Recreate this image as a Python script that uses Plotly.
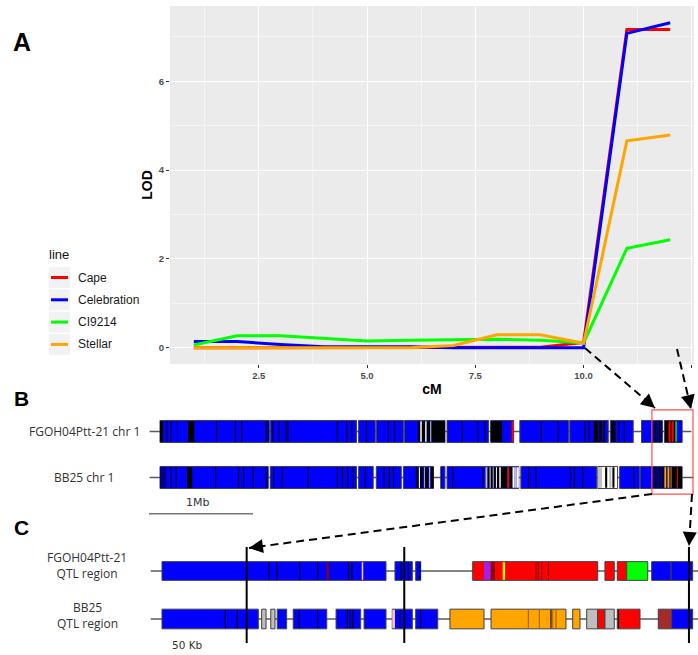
import plotly.graph_objects as go

W, H = 698, 655

# ---------------- Panel A data (LOD profile along chromosome, cM) ----------------
CM = [1, 2, 3, 4, 5, 6, 7, 8, 9, 10, 11, 12]
LOD_CAPE = [0.0, 0.0, 0.0, 0.0, 0.0, 0.0, 0.0, 0.0, 0.01, 0.12, 7.17, 7.17]
LOD_CELEBRATION = [0.14, 0.14, 0.07, 0.02, 0.02, 0.02, 0.0, 0.0, 0.0, 0.0, 7.08, 7.32]
LOD_CI9214 = [0.06, 0.27, 0.27, 0.21, 0.15, 0.17, 0.18, 0.19, 0.17, 0.11, 2.24, 2.43]
LOD_STELLAR = [0.0, 0.0, 0.0, 0.0, 0.0, 0.0, 0.05, 0.29, 0.29, 0.10, 4.66, 4.79]
LINE_NAMES = ["Cape", "Celebration", "CI9214", "Stellar"]
X_TICKS = [2.5, 5.0, 7.5, 10.0, 12.5]
Y_TICKS = [0, 2, 4, 6]

# ---------------- Panel B data (whole chromosome 1, Mb) ----------------
B_ROWS = ["FGOH04Ptt-21 chr 1", "BB25 chr 1"]
B_TOP_BLOCKS = [(0.00, 1.05, "A"), (1.06, 1.89, "A"), (1.91, 2.07, "A"), (2.08, 2.34, "A"),
                (2.35, 2.74, "A"), (2.76, 3.16, "A"), (3.18, 3.40, "A"), (3.46, 3.93, "A"),
                (3.94, 4.31, "A"), (4.33, 4.55, "A"), (4.63, 4.83, "A"), (4.85, 5.02, "K")]
B_TOP_STRIPES = [(0.00, 0.03, "K"), (0.06, 0.07, "K"), (0.10, 0.11, "K"), (0.16, 0.17, "N"),
                 (0.27, 0.33, "K"), (0.54, 0.55, "K"), (0.72, 0.73, "K"), (0.78, 0.79, "K"),
                 (1.01, 1.05, "N"), (1.08, 1.09, "K"), (1.14, 1.15, "K"), (1.20, 1.24, "N"),
                 (1.70, 1.71, "K"), (1.79, 1.80, "K"), (1.84, 1.85, "K"), (1.98, 1.99, "K"),
                 (2.19, 2.20, "K"), (2.25, 2.26, "K"), (2.48, 2.50, "K"), (2.50, 2.52, "Y"),
                 (2.52, 2.55, "K"), (2.55, 2.565, "W"), (2.565, 2.60, "K"), (2.60, 2.61, "W"),
                 (2.61, 2.74, "K"), (2.90, 2.91, "K"), (3.05, 3.06, "K"), (3.12, 3.13, "K"),
                 (3.18, 3.29, "K"), (3.38, 3.40, "R"), (3.66, 3.67, "K"), (3.82, 3.83, "K"),
                 (4.08, 4.09, "K"), (4.12, 4.13, "K"), (4.17, 4.28, "K"), (4.21, 4.22, "A"),
                 (4.25, 4.26, "A"), (4.34, 4.38, "K"), (4.41, 4.42, "K"), (4.46, 4.47, "K"),
                 (4.73, 4.83, "N"), (4.76, 4.77, "K"), (4.80, 4.81, "K"), (4.89, 4.91, "R"),
                 (4.92, 4.94, "R"), (4.955, 4.97, "G"), (4.97, 5.02, "A")]
B_BOT_BLOCKS = [(0.00, 1.04, "A"), (1.06, 1.89, "A"), (1.91, 2.05, "A"), (2.08, 2.32, "A"),
                (2.34, 2.63, "A"), (2.70, 2.74, "A"), (2.76, 3.45, "A"), (3.47, 4.20, "A"),
                (4.21, 4.40, "W"), (4.42, 4.61, "A"), (4.62, 5.02, "A")]
B_BOT_STRIPES = [(0.00, 0.06, "N"), (0.10, 0.11, "K"), (0.15, 0.16, "K"), (0.26, 0.31, "K"),
                 (0.53, 0.54, "K"), (0.75, 0.76, "K"), (0.80, 0.81, "K"), (0.89, 0.90, "K"),
                 (1.01, 1.04, "N"), (1.09, 1.10, "K"), (1.17, 1.18, "K"), (1.42, 1.43, "K"),
                 (1.70, 1.71, "K"), (1.75, 1.76, "K"), (1.80, 1.81, "K"), (1.85, 1.86, "K"),
                 (1.97, 1.98, "K"), (2.15, 2.16, "K"), (2.20, 2.21, "K"), (2.24, 2.25, "K"),
                 (2.46, 2.48, "K"), (2.49, 2.50, "W"), (2.50, 2.53, "K"), (2.54, 2.55, "Y"),
                 (2.55, 2.58, "K"), (2.59, 2.60, "W"), (2.60, 2.63, "K"), (2.70, 2.71, "N"),
                 (2.81, 2.82, "K"), (3.10, 3.11, "K"), (3.13, 3.15, "Y"), (3.15, 3.17, "K"),
                 (3.17, 3.18, "W"), (3.18, 3.20, "K"), (3.20, 3.21, "Y"), (3.21, 3.23, "K"),
                 (3.23, 3.24, "W"), (3.24, 3.26, "K"), (3.26, 3.28, "Y"), (3.28, 3.34, "K"),
                 (3.34, 3.36, "R"), (3.36, 3.39, "K"), (3.39, 3.41, "W"), (3.41, 3.43, "Y"),
                 (3.43, 3.45, "W"), (3.54, 3.55, "K"), (3.61, 3.62, "K"), (3.94, 3.95, "K"),
                 (3.98, 3.99, "K"), (4.06, 4.07, "K"), (4.21, 4.25, "Y"), (4.28, 4.30, "K"),
                 (4.32, 4.34, "Y"), (4.35, 4.37, "K"), (4.55, 4.56, "K"), (4.73, 4.85, "N"),
                 (4.76, 4.77, "K"), (4.80, 4.81, "K"), (4.83, 4.84, "K"), (4.85, 4.87, "O"),
                 (4.87, 4.88, "K"), (4.88, 4.90, "O"), (4.90, 4.91, "K"), (4.91, 4.92, "O"),
                 (4.92, 4.97, "K"), (4.97, 4.98, "R"), (4.98, 5.02, "K")]
B_TOP_BACKBONE = (-0.10, 5.11)
B_BOT_BACKBONE = (-0.10, 5.13)
SCALE_BAR_MB = 1.0
QTL_WINDOW_MB = (4.73, 5.125)

# ---------------- Panel C data (QTL region, Kb) ----------------
C_ROWS = ["FGOH04Ptt-21<br>QTL region", "BB25<br>QTL region"]
C_TOP_BLOCKS = [(0, 200, "A"), (208, 223.5, "A"), (226.5, 231, "A"), (277.4, 389, "R"),
                (395.5, 403.8, "R"), (406.5, 414.9, "R"), (414.9, 433.7, "G"),
                (437.2, 454.5, "A"), (454.5, 473.8, "A")]
C_TOP_STRIPES = [(95, 96, "K"), (102, 103, "K"), (122.5, 123.5, "K"), (138.5, 139.5, "K"),
                 (147, 149, "D"), (166, 167, "K"), (169, 170, "K"), (178.3, 179.7, "P"),
                 (213, 214, "K"), (219.5, 220.5, "K"), (229.5, 231, "N"), (287.5, 293.5, "V"),
                 (293.5, 297.3, "D"), (304.2, 306.3, "L"), (333.5, 334.5, "D"),
                 (335.5, 336.5, "D"), (338.5, 339.5, "D"), (344.5, 345.5, "D")]
C_BOT_BLOCKS = [(0, 86, "A"), (89, 92.9, "Y"), (97.1, 100.9, "Y"), (102.9, 111.3, "A"),
                (117.2, 147.1, "A"), (155.4, 177.4, "A"), (180.4, 200, "A"), (205.6, 223.5, "A"),
                (226.5, 246.2, "A"), (257.1, 287.5, "O"), (293.8, 360.7, "O"), (366.7, 373.2, "O"),
                (379.2, 389, "Y"), (389, 395.5, "R"), (395.5, 403.8, "Y"), (406.5, 426.8, "R"),
                (443.1, 455.1, "M"), (455.1, 473.8, "A")]
C_BOT_STRIPES = [(56, 57, "K"), (66.7, 67.7, "K"), (122, 123, "K"), (138.5, 139.5, "K"),
                 (165, 166, "K"), (167.5, 168.5, "K"), (170, 171, "K"), (205.6, 208, "P"),
                 (212, 213, "K"), (230.5, 231.5, "K"), (326.6, 327.6, "Q"), (336.4, 337.4, "Q"),
                 (346.8, 347.8, "K"), (348.5, 349.3, "Q"), (351.3, 352.3, "Q"), (407, 408, "K")]
C_BACKBONE = (-10, 480)
C_MARKERS_KB = [75.6, 216.3, 470.5]

# ---------------- styles ----------------
LINE_COLORS = {"Cape": "#FF0000", "Celebration": "#0000FF", "CI9214": "#00FF00", "Stellar": "#FFA500"}
HAPLO_COLORS = {"A": "#0000FF", "K": "#000000", "N": "#000080", "R": "#FF0000", "G": "#00FF00",
                "O": "#FFA500", "W": "#FFFFFF", "Y": "#BEBEBE", "P": "#FFC0CB", "V": "#A020F0",
                "L": "#FFFF00", "D": "#8B0000", "M": "#A52A2A", "Q": "#9A6400"}
ARIAL = "Liberation Sans"
LABEL_FONT = "Open Sans"


def px(x):
    return x / W


def py(y):
    return 1 - y / H


fig = go.Figure()

# ----- Panel A -----
series = {"Cape": LOD_CAPE, "Celebration": LOD_CELEBRATION, "CI9214": LOD_CI9214, "Stellar": LOD_STELLAR}
for name in LINE_NAMES:
    fig.add_trace(go.Scatter(x=CM, y=series[name], mode="lines", name=name,
                             line=dict(color=LINE_COLORS[name], width=3),
                             xaxis="x", yaxis="y", showlegend=False))


# ----- Panels B and C: chromosome tracks -----
def add_track(blocks, stripes, row_y, backbone, xa, ya, thickness, line_th):
    # backbone drawn as a thin bar so it stays beneath the blocks
    fig.add_trace(go.Bar(orientation="h", y=[row_y], base=[backbone[0]],
                         x=[backbone[1] - backbone[0]], width=line_th,
                         marker=dict(color="#5a5a5a", line=dict(width=0)),
                         xaxis=xa, yaxis=ya, showlegend=False, hoverinfo="skip"))
    fig.add_trace(go.Bar(orientation="h", y=[row_y] * len(blocks),
                         base=[b[0] for b in blocks], x=[b[1] - b[0] for b in blocks],
                         width=thickness,
                         marker=dict(color=[HAPLO_COLORS[b[2]] for b in blocks],
                                     line=dict(color="#404040", width=1)),
                         xaxis=xa, yaxis=ya, showlegend=False, hoverinfo="skip"))
    if stripes:
        fig.add_trace(go.Bar(orientation="h", y=[row_y] * len(stripes),
                             base=[s[0] for s in stripes], x=[s[1] - s[0] for s in stripes],
                             width=thickness * 0.93,
                             marker=dict(color=[HAPLO_COLORS[s[2]] for s in stripes],
                                         line=dict(width=0)),
                             xaxis=xa, yaxis=ya, showlegend=False, hoverinfo="skip"))


add_track(B_TOP_BLOCKS, B_TOP_STRIPES, 1, B_TOP_BACKBONE, "x2", "y2", 0.48, 0.033)
add_track(B_BOT_BLOCKS, B_BOT_STRIPES, 0, B_BOT_BACKBONE, "x2", "y2", 0.48, 0.033)
add_track(C_TOP_BLOCKS, C_TOP_STRIPES, 1, C_BACKBONE, "x3", "y3", 0.39, 0.032)
add_track(C_BOT_BLOCKS, C_BOT_STRIPES, 0, C_BACKBONE, "x3", "y3", 0.41, 0.032)

# scale bar 1Mb
fig.add_trace(go.Scatter(x=[-0.106, -0.106 + SCALE_BAR_MB], y=[-0.79, -0.79], mode="lines",
                         line=dict(color="#333333", width=1), xaxis="x2", yaxis="y2",
                         showlegend=False, hoverinfo="skip"))

# QTL marker lines in C
for m in C_MARKERS_KB:
    fig.add_trace(go.Scatter(x=[m, m], y=[-0.5, 1.5], mode="lines",
                             line=dict(color="#000000", width=2), xaxis="x3", yaxis="y3",
                             showlegend=False, hoverinfo="skip"))

shapes = []
annotations = []

# grey panel background for A
shapes.append(dict(type="rect", xref="x domain", yref="y domain", x0=0, x1=1, y0=0, y1=1,
                   fillcolor="#EBEBEB", line=dict(width=0), layer="below"))

# red QTL window box on B
shapes.append(dict(type="rect", xref="x2", yref="y2", x0=QTL_WINDOW_MB[0], x1=QTL_WINDOW_MB[1],
                   y0=-0.36, y1=1.47, line=dict(color="#FF4D4D", width=1.2),
                   fillcolor="rgba(0,0,0,0)", layer="above"))

# dashed connector arrows
connectors = [((585, 348), (655, 408)), ((677, 349), (691, 409)),
              ((652, 494), (249, 548)), ((692, 494), (689, 546))]
for (x0, y0), (x1, y1) in connectors:
    shapes.append(dict(type="line", xref="paper", yref="paper", x0=px(x0), y0=py(y0),
                       x1=px(x1), y1=py(y1), line=dict(color="black", width=2, dash="8px,5px")))
    dx, dy = x0 - x1, y0 - y1
    L = (dx * dx + dy * dy) ** 0.5
    annotations.append(dict(xref="paper", yref="paper", x=px(x1), y=py(y1), text="",
                            showarrow=True, arrowhead=2, arrowsize=1.4, arrowwidth=2,
                            arrowcolor="black", ax=dx / L * 9, ay=dy / L * 9, standoff=0))

# legend (ggplot style)
annotations.append(dict(xref="paper", yref="paper", x=px(47), y=py(254), text="line",
                        showarrow=False, xanchor="left", yanchor="middle",
                        font=dict(family=ARIAL, size=13, color="#111111")))
for i, name in enumerate(LINE_NAMES):
    cy = 277.5 + 22.3 * i
    shapes.append(dict(type="rect", xref="paper", yref="paper", x0=px(49), x1=px(70),
                       y0=py(cy - 10.5), y1=py(cy + 10.5), fillcolor="#F2F2F2",
                       line=dict(width=0)))
    shapes.append(dict(type="line", xref="paper", yref="paper", x0=px(51), x1=px(68),
                       y0=py(cy), y1=py(cy), line=dict(color=LINE_COLORS[name], width=3)))
    annotations.append(dict(xref="paper", yref="paper", x=px(76), y=py(cy), text=name,
                            showarrow=False, xanchor="left", yanchor="middle",
                            font=dict(family=ARIAL, size=12, color="#1A1A1A")))

# panel letters
for letter, (lx, ly, sz) in {"A": (22, 42, 25), "B": (21, 399, 21), "C": (21, 527, 21)}.items():
    annotations.append(dict(xref="paper", yref="paper", x=px(lx), y=py(ly), text="<b>%s</b>" % letter,
                            showarrow=False, xanchor="center", yanchor="middle",
                            font=dict(family=ARIAL, size=sz, color="black")))

# track labels
for i, lab in enumerate(B_ROWS):
    annotations.append(dict(xref="paper", yref="y2", x=px(84), y=1 - i, text=lab, showarrow=False,
                            xanchor="center", yanchor="middle",
                            font=dict(family=LABEL_FONT, size=12, color="#333333")))
for i, (lab, cy) in enumerate(zip(C_ROWS, [565, 615])):
    annotations.append(dict(xref="paper", yref="paper", x=px(87), y=py(cy), text=lab, showarrow=False,
                            xanchor="center", yanchor="middle", align="center",
                            font=dict(family=LABEL_FONT, size=12, color="#333333")))

annotations.append(dict(xref="paper", yref="paper", x=px(197), y=py(502), text="1Mb", showarrow=False,
                        xanchor="center", yanchor="middle",
                        font=dict(family="DejaVu Sans", size=11, color="#333333")))
annotations.append(dict(xref="paper", yref="paper", x=px(187), y=py(645), text="50 Kb", showarrow=False,
                        xanchor="center", yanchor="middle",
                        font=dict(family="DejaVu Sans", size=10.5, color="#333333")))

tickfont = dict(family=ARIAL, size=9.5, color="#4D4D4D", weight="bold")
hidden = dict(visible=False, showgrid=False, zeroline=False, fixedrange=True)

fig.update_layout(
    width=W, height=H, margin=dict(l=0, r=0, t=0, b=0, autoexpand=False),
    paper_bgcolor="white", plot_bgcolor="rgba(0,0,0,0)",
    font=dict(family=ARIAL), barmode="overlay", showlegend=False, hovermode=False,
    xaxis=dict(domain=[px(170), px(694)], range=[0.45, 12.55], tickvals=X_TICKS,
               tickformat=".1f", showgrid=True, gridcolor="white", gridwidth=1,
               minor=dict(tickvals=[1.25, 3.75, 6.25, 8.75, 11.25], showgrid=True,
                          gridcolor="white", gridwidth=0.5, ticks=""),
               ticks="outside", ticklen=3, tickwidth=1, tickcolor="#333333",
               tickfont=tickfont, zeroline=False, showline=False, anchor="y",
               title=dict(text="<b>cM</b>", font=dict(family=ARIAL, size=14, color="black"),
                          standoff=3), automargin=False),
    yaxis=dict(domain=[py(364), py(6)], range=[-0.3665, 7.6965], tickvals=Y_TICKS,
               showgrid=True, gridcolor="white", gridwidth=1,
               minor=dict(tickvals=[1, 3, 5, 7], showgrid=True, gridcolor="white",
                          gridwidth=0.5, ticks=""),
               ticks="outside", ticklen=3, tickwidth=1, tickcolor="#333333",
               tickfont=tickfont, zeroline=False, showline=False, anchor="x",
               title=dict(text="<b>LOD</b>", font=dict(family=ARIAL, size=14, color="black"),
                          standoff=2), automargin=False),
    xaxis2=dict(domain=[0, 1], range=[-160 / 104, 538 / 104], anchor="y2", **hidden),
    yaxis2=dict(domain=[py(523.5), py(408.5)], range=[-1, 1.5], anchor="x2", **hidden),
    xaxis3=dict(domain=[0, 1], range=[-162 / 1.12, 536 / 1.12], anchor="y3", **hidden),
    yaxis3=dict(domain=[py(647.8), py(542.2)], range=[-0.6, 1.6], anchor="x3", **hidden),
    shapes=shapes, annotations=annotations,
)

fig.write_html("out.html", config={"displayModeBar": False, "staticPlot": True},
               post_script="document.body.style.margin='0';document.body.style.padding='0';"
                           "document.documentElement.style.overflow='hidden';")
